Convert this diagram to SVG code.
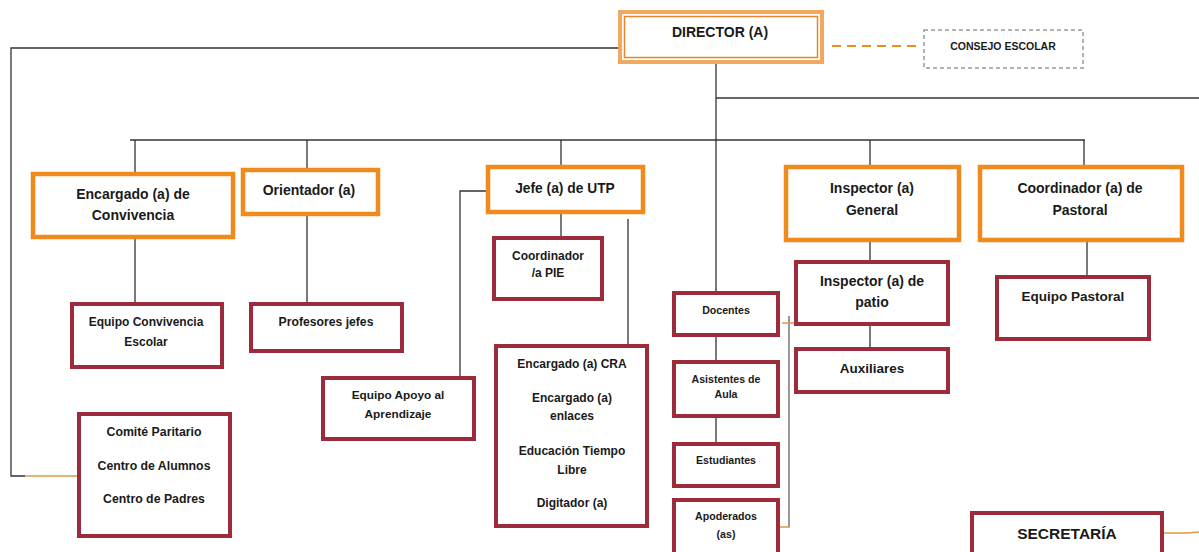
<svg xmlns="http://www.w3.org/2000/svg" width="1199" height="552" viewBox="0 0 1199 552">
<style>
.o{fill:#fff;stroke:#EF8A1C;stroke-width:4.5}
.m{fill:#fff;stroke:#9C2B3B;stroke-width:4}
.t{font-family:"Liberation Sans",Arial,sans-serif;font-weight:bold;fill:#1a1a1a;text-anchor:middle}
.l{stroke:#333;stroke-width:1.3;fill:none}
.g{stroke:#777;stroke-width:1.5;fill:none}
.y{stroke:#D99A45;stroke-width:1.5;fill:none}
</style>
<rect width="1199" height="552" fill="#fff"/>
<g id="connectors">
<path class="l" d="M620 48H11V476H25"/>
<path class="y" d="M25 476H79"/>
<path d="M832 46H920" stroke="#EF8A1C" stroke-width="2" stroke-dasharray="9,6" fill="none"/>
<path class="l" d="M716 62V292"/>
<path class="l" d="M716 98H1199"/>
<path class="l" d="M130 140H1085"/>
<path class="l" d="M135 140V173M307 140V169M561 140V166M870 140V166M1084 140V166"/>
<path class="l" d="M135 237V303M307 215V303M561 213V237"/>
<path class="l" d="M487 191H460V377"/>
<path class="l" d="M628 219V346"/>
<path class="l" d="M870 241V261M870 325V348M1087 241V276"/>
<path class="l" d="M716 336V361M716 417V443"/>
<path class="g" d="M789 316V527"/>
<path class="y" d="M782 323H797M780 527H790"/>
<path class="y" d="M1164 533H1188L1199 532"/>
</g>
<g id="director">
<rect x="620" y="12" width="202" height="50" fill="#fff" stroke="#F3A860" stroke-width="4"/>
<rect x="624.5" y="16.5" width="193" height="41" fill="none" stroke="#E8862A" stroke-width="1.5"/>
<text class="t" x="720" y="37" font-size="14">DIRECTOR (A)</text>
</g>
<g id="consejo">
<rect x="924" y="30" width="159" height="38" fill="#fff" stroke="#999" stroke-width="1.5" stroke-dasharray="4,3"/>
<text class="t" x="1003" y="50" font-size="10.5">CONSEJO ESCOLAR</text>
</g>
<g id="encargado-convivencia">
<rect class="o" x="33" y="174" width="200" height="63"/>
<text class="t" x="133" y="199" font-size="14">Encargado (a) de</text>
<text class="t" x="133" y="220" font-size="14">Convivencia</text>
</g>
<g id="orientador">
<rect class="o" x="243" y="170" width="135" height="44"/>
<text class="t" x="309" y="195" font-size="14">Orientador (a)</text>
</g>
<g id="jefe-utp">
<rect class="o" x="488" y="167" width="155" height="45"/>
<text class="t" x="565" y="193" font-size="13.8">Jefe (a) de UTP</text>
</g>
<g id="inspector-general">
<rect class="o" x="786" y="167" width="173" height="73"/>
<text class="t" x="872" y="193" font-size="14">Inspector (a)</text>
<text class="t" x="872" y="215" font-size="14">General</text>
</g>
<g id="coordinador-pastoral">
<rect class="o" x="980" y="167" width="202" height="73"/>
<text class="t" x="1080" y="193" font-size="14">Coordinador (a) de</text>
<text class="t" x="1080" y="215" font-size="14">Pastoral</text>
</g>
<g id="equipo-convivencia">
<rect class="m" x="72" y="304" width="150" height="63"/>
<text class="t" x="146" y="326" font-size="12">Equipo Convivencia</text>
<text class="t" x="146" y="346" font-size="12">Escolar</text>
</g>
<g id="profesores-jefes">
<rect class="m" x="251" y="304" width="151" height="47"/>
<text class="t" x="326" y="326" font-size="12.2">Profesores jefes</text>
</g>
<g id="coordinador-pie">
<rect class="m" x="494" y="238" width="108" height="61"/>
<text class="t" x="548" y="260" font-size="12">Coordinador</text>
<text class="t" x="548" y="277" font-size="12">/a  PIE</text>
</g>
<g id="equipo-apoyo">
<rect class="m" x="323" y="378" width="151" height="61"/>
<text class="t" x="398" y="399" font-size="11.8">Equipo Apoyo al</text>
<text class="t" x="398" y="418" font-size="11.8">Aprendizaje</text>
</g>
<g id="comite">
<rect class="m" x="79" y="414" width="151" height="122"/>
<text class="t" x="154" y="436" font-size="12.3">Comité Paritario</text>
<text class="t" x="154" y="470" font-size="12.3">Centro de Alumnos</text>
<text class="t" x="154" y="503" font-size="12.3">Centro de Padres</text>
</g>
<g id="cra">
<rect class="m" x="496" y="346" width="151" height="180"/>
<text class="t" x="572" y="368" font-size="12">Encargado (a) CRA</text>
<text class="t" x="572" y="402" font-size="12">Encargado (a)</text>
<text class="t" x="572" y="420" font-size="12">enlaces</text>
<text class="t" x="572" y="455" font-size="12">Educación Tiempo</text>
<text class="t" x="572" y="474" font-size="12">Libre</text>
<text class="t" x="572" y="507" font-size="12">Digitador (a)</text>
</g>
<g id="docentes">
<rect class="m" x="674" y="293" width="104" height="42"/>
<text class="t" x="726" y="314" font-size="10.6">Docentes</text>
</g>
<g id="asistentes">
<rect class="m" x="674" y="362" width="104" height="54"/>
<text class="t" x="726" y="383" font-size="10.6">Asistentes de</text>
<text class="t" x="726" y="398" font-size="10.6">Aula</text>
</g>
<g id="estudiantes">
<rect class="m" x="674" y="444" width="104" height="42"/>
<text class="t" x="726" y="464" font-size="10.6">Estudiantes</text>
</g>
<g id="apoderados">
<rect class="m" x="674" y="500" width="104" height="60"/>
<text class="t" x="726" y="520" font-size="10.6">Apoderados</text>
<text class="t" x="726" y="538" font-size="10.6">(as)</text>
</g>
<g id="inspector-patio">
<rect class="m" x="796" y="262" width="152" height="62"/>
<text class="t" x="872" y="286" font-size="14">Inspector (a) de</text>
<text class="t" x="872" y="307" font-size="14">patio</text>
</g>
<g id="auxiliares">
<rect class="m" x="796" y="349" width="152" height="43"/>
<text class="t" x="872" y="373" font-size="13.5">Auxiliares</text>
</g>
<g id="equipo-pastoral">
<rect class="m" x="997" y="277" width="152" height="62"/>
<text class="t" x="1073" y="301" font-size="13.5">Equipo Pastoral</text>
</g>
<g id="secretaria">
<rect class="m" x="972" y="513" width="190" height="60"/>
<text class="t" x="1067" y="539" font-size="15.5">SECRETARÍA</text>
</g>
</svg>
